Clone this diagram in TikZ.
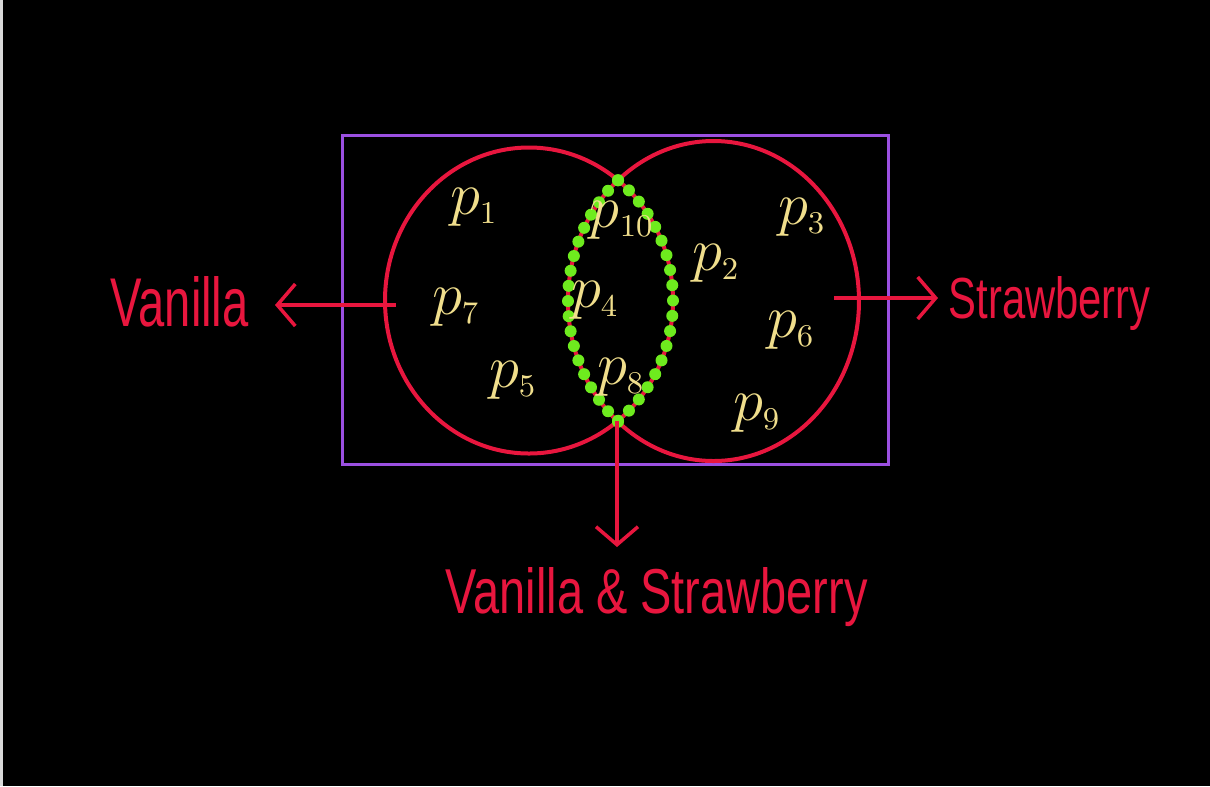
\documentclass[tikz,border=0pt]{standalone}
\usepackage{fontspec}
\usepackage{graphicx}
\setmainfont{Liberation Sans}
\usetikzlibrary{arrows.meta}
\definecolor{vred}{RGB}{232,22,62}
\definecolor{vpurple}{RGB}{155,80,225}
\definecolor{vgreen}{RGB}{110,235,30}
\definecolor{vyellow}{RGB}{240,222,140}
\tikzset{
  ring/.style={draw=vred, line width=0.4mm},
  pointer/.style={vred, line width=0.35mm, -{Straight Barb[length=1.8mm,width=4.2mm,line width=0.35mm]}},
  plabel/.style={text=vyellow, font=\fontsize{19}{19}\selectfont, inner sep=0pt},
  setlabel/.style={text=vred, inner sep=0pt, font=\fontsize{20}{24}\selectfont},
  bead/.style={fill=vgreen}
}
\newcommand{\pl}[1]{$p_{\scriptscriptstyle #1}$}
\begin{document}
\begin{tikzpicture}[x=0.1mm,y=-0.1mm]
\fill[black] (0,0) rectangle (1210,786);
\fill[black!15] (0,0) rectangle (3,786);
\useasboundingbox (0,0) rectangle (1210,786);

% universe
\draw[vpurple, line width=0.3mm] (342,135) rectangle (888,464);

% sets
\draw[ring] (529,300.5) ellipse [x radius=144, y radius=153];
\draw[ring] (713.5,301) ellipse [x radius=145.5, y radius=160];

% green beads along the lens
\foreach \i in {0,...,18}{
  \pgfmathsetmacro{\t}{-51.8+103.6*\i/18}
  \fill[bead] ({529+144*cos(\t)},{300.5+153*sin(\t)}) circle[radius=0.6mm];
}
\foreach \i in {0,...,18}{
  \pgfmathsetmacro{\t}{131+98*\i/18}
  \fill[bead] ({713.5+145.5*cos(\t)},{301+160*sin(\t)}) circle[radius=0.6mm];
}

% element labels
\node[plabel] (p1) at (474,207) {\pl{1}};
\node[plabel] (p10) at (622,220) {\pl{10}};
\node[plabel] (p2) at (716,263) {\pl{2}};
\node[plabel] (p3) at (802,217) {\pl{3}};
\node[plabel] (p7) at (456,307) {\pl{7}};
\node[plabel] (p4) at (595,300) {\pl{4}};
\node[plabel] (p6) at (791,330) {\pl{6}};
\node[plabel] (p5) at (513,380) {\pl{5}};
\node[plabel] (p8) at (621,377) {\pl{8}};
\node[plabel] (p9) at (757,413) {\pl{9}};

% set labels
\node[setlabel, anchor=base west] (van) at (110,326) {\resizebox{13.8mm}{5mm}{Vanilla}};
\node[setlabel, anchor=base west] (str) at (948,318) {\resizebox{20.2mm}{4.2mm}{Strawberry}};
\node[setlabel, anchor=base west] (both) at (445,613) {\resizebox{42.2mm}{4.6mm}{Vanilla \& Strawberry}};

% pointers
\coordinate (sL) at (396,305);
\coordinate (tL) at (275,305);
\coordinate (sR) at (834,298);
\coordinate (tR) at (938,298);
\coordinate (sB) at (617,421);
\coordinate (tB) at (617,547);
\draw[pointer] (sL) -- (tL);
\draw[pointer] (sR) -- (tR);
\draw[pointer] (sB) -- (tB);
\end{tikzpicture}
\end{document}
